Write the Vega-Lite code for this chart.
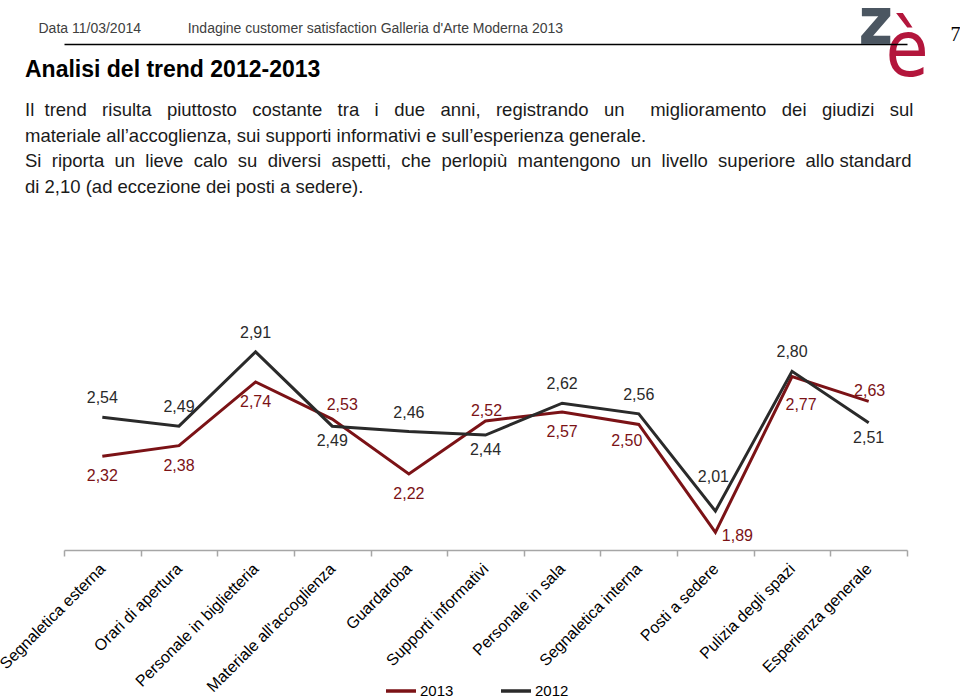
{
  "$schema": "https://vega.github.io/schema/vega-lite/v6.json",
  "width": 843,
  "height": 214,
  "autosize": {"type": "none"},
  "padding": {"left": 64, "top": 336, "right": 53, "bottom": 150},
  "background": "#ffffff",
  "config": {
    "view": {"stroke": null},
    "locale": {"number": {"decimal": ",", "thousands": ".", "grouping": [3], "currency": ["", " €"]}},
    "font": "Liberation Sans"
  },
  "title": {
    "text": "Analisi del trend 2012-2013",
    "subtitle": [
      "Il\u00a0\u00a0trend\u00a0\u00a0\u00a0risulta\u00a0\u00a0\u00a0piuttosto\u00a0\u00a0\u00a0costante\u00a0\u00a0\u00a0tra\u00a0\u00a0\u00a0i\u00a0\u00a0\u00a0due\u00a0\u00a0\u00a0anni,\u00a0\u00a0\u00a0registrando\u00a0\u00a0\u00a0un\u00a0\u00a0\u00a0\u00a0\u00a0miglioramento\u00a0\u00a0\u00a0dei\u00a0\u00a0\u00a0giudizi\u00a0\u00a0\u00a0sul",
      "materiale all’accoglienza, sui supporti informativi e sull’esperienza generale.",
      "Si\u00a0\u00a0riporta\u00a0\u00a0un\u00a0\u00a0lieve\u00a0\u00a0calo\u00a0\u00a0su\u00a0\u00a0diversi\u00a0\u00a0aspetti,\u00a0\u00a0che\u00a0\u00a0perlopiù\u00a0\u00a0mantengono\u00a0\u00a0un\u00a0\u00a0livello\u00a0\u00a0superiore\u00a0\u00a0allo standard",
      "di 2,10 (ad eccezione dei posti a sedere)."
    ],
    "anchor": "start",
    "frame": "group",
    "dx": -39,
    "offset": -206,
    "font": "Liberation Sans",
    "fontSize": 23,
    "fontWeight": "bold",
    "color": "#000000",
    "subtitleFont": "Liberation Sans",
    "subtitleFontSize": 18.5,
    "subtitleColor": "#1a1a1a",
    "subtitleLineHeight": 25.5,
    "subtitlePadding": 19
  },
  "data": {
    "values": [
      {"categoria": "Segnaletica esterna", "anno": "2013", "valore": 2.32},
      {"categoria": "Orari di apertura", "anno": "2013", "valore": 2.38},
      {"categoria": "Personale in biglietteria", "anno": "2013", "valore": 2.74},
      {"categoria": "Materiale all'accoglienza", "anno": "2013", "valore": 2.53},
      {"categoria": "Guardaroba", "anno": "2013", "valore": 2.22},
      {"categoria": "Supporti informativi", "anno": "2013", "valore": 2.52},
      {"categoria": "Personale in sala", "anno": "2013", "valore": 2.57},
      {"categoria": "Segnaletica interna", "anno": "2013", "valore": 2.50},
      {"categoria": "Posti a sedere", "anno": "2013", "valore": 1.89},
      {"categoria": "Pulizia degli spazi", "anno": "2013", "valore": 2.77},
      {"categoria": "Esperienza generale", "anno": "2013", "valore": 2.63},
      {"categoria": "Segnaletica esterna", "anno": "2012", "valore": 2.54},
      {"categoria": "Orari di apertura", "anno": "2012", "valore": 2.49},
      {"categoria": "Personale in biglietteria", "anno": "2012", "valore": 2.91},
      {"categoria": "Materiale all'accoglienza", "anno": "2012", "valore": 2.49},
      {"categoria": "Guardaroba", "anno": "2012", "valore": 2.46},
      {"categoria": "Supporti informativi", "anno": "2012", "valore": 2.44},
      {"categoria": "Personale in sala", "anno": "2012", "valore": 2.62},
      {"categoria": "Segnaletica interna", "anno": "2012", "valore": 2.56},
      {"categoria": "Posti a sedere", "anno": "2012", "valore": 2.01},
      {"categoria": "Pulizia degli spazi", "anno": "2012", "valore": 2.80},
      {"categoria": "Esperienza generale", "anno": "2012", "valore": 2.51}
    ]
  },
  "encoding": {
    "x": {
      "field": "categoria", "type": "nominal", "bandPosition": 0.5,
      "scale": {"type": "band", "paddingInner": 0, "paddingOuter": 0,
        "domain": ["Segnaletica esterna", "Orari di apertura", "Personale in biglietteria", "Materiale all'accoglienza", "Guardaroba", "Supporti informativi", "Personale in sala", "Segnaletica interna", "Posti a sedere", "Pulizia degli spazi", "Esperienza generale"]},
      "axis": null
    },
    "y": {"field": "valore", "type": "quantitative", "scale": {"domain": [1.79, 3.0], "zero": false}, "axis": null}
  },
  "resolve": {"axis": {"x": "independent", "y": "independent"}},
  "layer": [
    {
      "mark": {"type": "line", "strokeWidth": 3},
      "encoding": {
        "x": {
          "field": "categoria", "type": "nominal", "bandPosition": 0.5,
          "scale": {"type": "band", "paddingInner": 0, "paddingOuter": 0,
            "domain": ["Segnaletica esterna", "Orari di apertura", "Personale in biglietteria", "Materiale all'accoglienza", "Guardaroba", "Supporti informativi", "Personale in sala", "Segnaletica interna", "Posti a sedere", "Pulizia degli spazi", "Esperienza generale"]},
          "axis": {
            "orient": "bottom", "tickBand": "extent", "ticks": true, "tickSize": 6, "tickColor": "#a6a6a6", "tickWidth": 1.5,
            "domainColor": "#a6a6a6", "domainWidth": 1.5, "grid": false,
            "labelAngle": -45, "labelAlign": "right", "labelBaseline": "middle", "labelFontSize": 16, "labelFont": "Liberation Sans", "labelColor": "#000000", "labelPadding": 10, "labelLimit": 400, "labelOverlap": false,
            "title": "è", "titleX": 821, "titleY": -475, "titleAngle": 0, "titleAlign": "left", "titleBaseline": "alphabetic",
            "titleFont": "DejaVu Sans Condensed, DejaVu Sans, sans-serif", "titleFontSize": 78, "titleFontWeight": "normal", "titleColor": "#b3163c", "titleLimit": 2000
          }
        },
        "y": {
          "field": "valore", "type": "quantitative", "scale": {"domain": [1.79, 3.0], "zero": false},
          "axis": {
            "orient": "left", "domain": false, "ticks": false, "labels": false, "grid": false,
            "title": "Data 11/03/2014\u00a0\u00a0\u00a0\u00a0\u00a0\u00a0\u00a0\u00a0\u00a0\u00a0\u00a0\u00a0Indagine customer satisfaction Galleria d'Arte Moderna 2013",
            "titleX": -26, "titleY": -304, "titleAngle": 0, "titleAlign": "left", "titleBaseline": "alphabetic",
            "titleFont": "Liberation Sans", "titleFontSize": 14, "titleFontWeight": "normal", "titleColor": "#404040", "titleLimit": 2000
          }
        },
        "color": {
          "field": "anno", "type": "nominal",
          "scale": {"domain": ["2013", "2012"], "range": ["#7b1216", "#2a2a2a"]},
          "legend": {
            "title": null, "orient": "none", "legendX": 320, "legendY": 338, "direction": "horizontal",
            "symbolType": "stroke", "symbolStrokeWidth": 3.5, "symbolSize": 900,
            "labelFontSize": 15, "labelFont": "Liberation Sans", "labelColor": "#000000", "labelOffset": 2, "columnPadding": 40, "padding": 0
          }
        }
      }
    },
    {
      "transform": [{"filter": {"and": [{"field": "anno", "equal": "2012"}, {"field": "categoria", "oneOf": ["Segnaletica esterna", "Orari di apertura", "Personale in biglietteria", "Guardaroba", "Personale in sala", "Segnaletica interna", "Pulizia degli spazi"]}]}}],
      "mark": {"type": "text", "dy": -19, "fontSize": 16, "font": "Liberation Sans", "baseline": "middle", "color": "#2a2a2a"},
      "encoding": {
        "x": {
          "field": "categoria", "type": "nominal", "bandPosition": 0.5,
          "scale": {"type": "band", "paddingInner": 0, "paddingOuter": 0,
            "domain": ["Segnaletica esterna", "Orari di apertura", "Personale in biglietteria", "Materiale all'accoglienza", "Guardaroba", "Supporti informativi", "Personale in sala", "Segnaletica interna", "Posti a sedere", "Pulizia degli spazi", "Esperienza generale"]},
          "axis": {
            "orient": "top", "offset": 292, "domain": true, "domainColor": "#000000", "domainWidth": 1.5, "ticks": false, "labels": false, "grid": false,
            "title": "z", "titleX": 794, "titleY": -1, "titleAngle": 0, "titleAlign": "left", "titleBaseline": "alphabetic",
            "titleFont": "DejaVu Sans Condensed, DejaVu Sans, sans-serif", "titleFontSize": 66, "titleFontWeight": "bold", "titleColor": "#4b5661", "titleLimit": 2000
          }
        },
        "y": {
          "field": "valore", "type": "quantitative", "scale": {"domain": [1.79, 3.0], "zero": false},
          "axis": {
            "orient": "right", "domain": false, "ticks": false, "labels": false, "grid": false,
            "title": "7", "titleX": 43, "titleY": -296, "titleAngle": 0, "titleAlign": "left", "titleBaseline": "alphabetic",
            "titleFont": "Liberation Serif", "titleFontSize": 20, "titleFontWeight": "normal", "titleColor": "#000000", "titleLimit": 2000
          }
        },
        "text": {"field": "valore", "type": "quantitative", "format": ".2f"}
      }
    },
    {
      "transform": [{"filter": {"and": [{"field": "anno", "equal": "2012"}, {"field": "categoria", "oneOf": ["Materiale all'accoglienza", "Supporti informativi", "Esperienza generale"]}]}}],
      "mark": {"type": "text", "dy": 15, "fontSize": 16, "font": "Liberation Sans", "baseline": "middle", "color": "#2a2a2a"},
      "encoding": {"text": {"field": "valore", "type": "quantitative", "format": ".2f"}}
    },
    {
      "transform": [{"filter": {"and": [{"field": "anno", "equal": "2012"}, {"field": "categoria", "equal": "Posti a sedere"}]}}],
      "mark": {"type": "text", "dy": -34, "dx": -2, "fontSize": 16, "font": "Liberation Sans", "baseline": "middle", "color": "#2a2a2a"},
      "encoding": {"text": {"field": "valore", "type": "quantitative", "format": ".2f"}}
    },
    {
      "transform": [{"filter": {"and": [{"field": "anno", "equal": "2013"}, {"field": "categoria", "oneOf": ["Segnaletica esterna", "Orari di apertura", "Personale in biglietteria", "Guardaroba", "Personale in sala"]}]}}],
      "mark": {"type": "text", "dy": 20, "fontSize": 16, "font": "Liberation Sans", "baseline": "middle", "color": "#7b1216"},
      "encoding": {"text": {"field": "valore", "type": "quantitative", "format": ".2f"}}
    },
    {
      "transform": [{"filter": {"and": [{"field": "anno", "equal": "2013"}, {"field": "categoria", "equal": "Segnaletica interna"}]}}],
      "mark": {"type": "text", "dy": 17, "dx": -12, "fontSize": 16, "font": "Liberation Sans", "baseline": "middle", "color": "#7b1216"},
      "encoding": {"text": {"field": "valore", "type": "quantitative", "format": ".2f"}}
    },
    {
      "transform": [{"filter": {"and": [{"field": "anno", "equal": "2013"}, {"field": "categoria", "equal": "Pulizia degli spazi"}]}}],
      "mark": {"type": "text", "dy": 28, "dx": 9, "fontSize": 16, "font": "Liberation Sans", "baseline": "middle", "color": "#7b1216"},
      "encoding": {"text": {"field": "valore", "type": "quantitative", "format": ".2f"}}
    },
    {
      "transform": [{"filter": {"and": [{"field": "anno", "equal": "2013"}, {"field": "categoria", "equal": "Materiale all'accoglienza"}]}}],
      "mark": {"type": "text", "dy": -14, "dx": 10, "fontSize": 16, "font": "Liberation Sans", "baseline": "middle", "color": "#7b1216"},
      "encoding": {"text": {"field": "valore", "type": "quantitative", "format": ".2f"}}
    },
    {
      "transform": [{"filter": {"and": [{"field": "anno", "equal": "2013"}, {"field": "categoria", "oneOf": ["Supporti informativi", "Esperienza generale"]}]}}],
      "mark": {"type": "text", "dy": -10, "dx": 1, "fontSize": 16, "font": "Liberation Sans", "baseline": "middle", "color": "#7b1216"},
      "encoding": {"text": {"field": "valore", "type": "quantitative", "format": ".2f"}}
    },
    {
      "transform": [{"filter": {"and": [{"field": "anno", "equal": "2013"}, {"field": "categoria", "equal": "Posti a sedere"}]}}],
      "mark": {"type": "text", "dy": 4, "dx": 22, "fontSize": 16, "font": "Liberation Sans", "baseline": "middle", "color": "#7b1216"},
      "encoding": {"text": {"field": "valore", "type": "quantitative", "format": ".2f"}}
    }
  ]
}
